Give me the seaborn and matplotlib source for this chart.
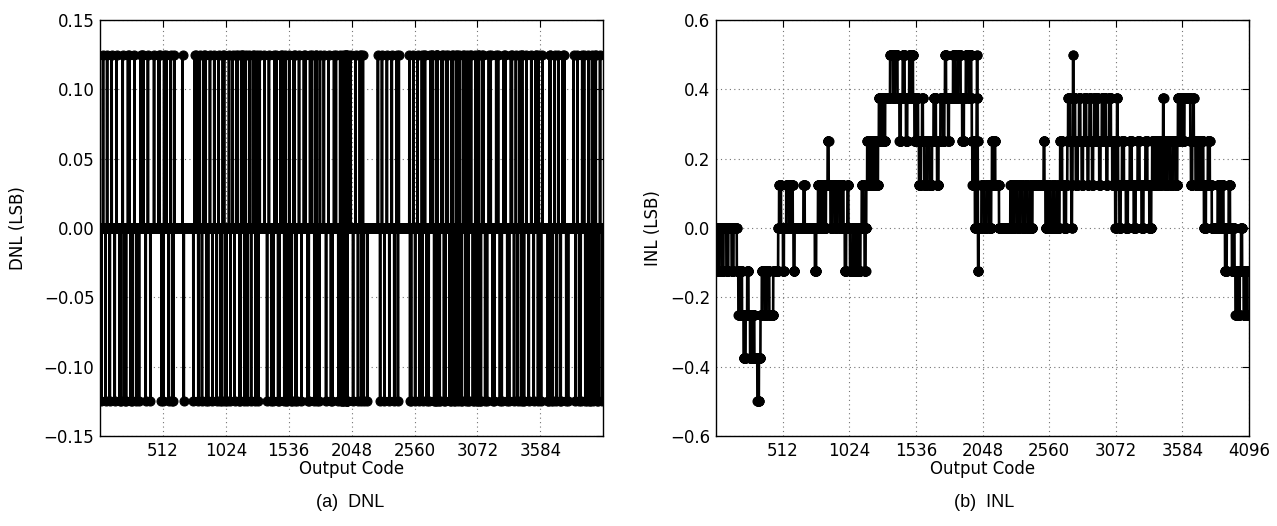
import numpy as np
import pandas as pd
import matplotlib
matplotlib.use("Agg")
import matplotlib.pyplot as plt
import seaborn as sns

# ---------------- data ----------------
n_codes = 4096
lsb_step = 0.125  # INL / DNL resolution in LSB

# INL: code at which the INL enters a new level, and that level in 1/8 LSB
inl_change_codes = [
    0, 12, 25, 45, 58, 80, 95, 120, 135, 160, 172, 185, 200, 212, 228, 240, 250, 262, 280, 295,
    318, 330, 342, 352, 372, 390, 410, 440, 478, 485, 500, 515, 522, 540, 560, 575, 590, 596, 604, 672,
    682, 760, 770, 784, 800, 812, 830, 845, 858, 866, 880, 895, 915, 930, 950, 965, 980, 990, 1000, 1010,
    1018, 1030, 1050, 1062, 1080, 1095, 1110, 1120, 1135, 1142, 1150, 1155, 1162, 1175, 1185, 1200, 1215, 1230, 1245, 1252,
    1265, 1275, 1290, 1300, 1338, 1360, 1375, 1395, 1410, 1420, 1435, 1450, 1460, 1470, 1485, 1500, 1508, 1514, 1525, 1540,
    1553, 1560, 1575, 1584, 1590, 1600, 1620, 1640, 1660, 1672, 1690, 1699, 1710, 1725, 1745, 1755, 1760, 1768, 1784, 1790,
    1822, 1840, 1860, 1880, 1892, 1905, 1920, 1940, 1955, 1962, 1966, 1970, 1978, 1985, 1990, 1995, 2000, 2003, 2006, 2008,
    2010, 2012, 2013, 2014, 2018, 2040, 2060, 2080, 2100, 2115, 2121, 2128, 2140, 2146, 2175, 2262, 2280, 2295, 2315, 2335,
    2355, 2375, 2395, 2415, 2425, 2432, 2518, 2524, 2532, 2550, 2565, 2585, 2600, 2620, 2625, 2640, 2645, 2660, 2675, 2690,
    2700, 2706, 2720, 2728, 2733, 2736, 2740, 2742, 2744, 2746, 2760, 2765, 2780, 2790, 2800, 2810, 2820, 2830, 2845, 2855,
    2862, 2870, 2880, 2890, 2898, 2905, 2915, 2925, 2935, 2945, 2955, 2965, 2975, 2985, 2995, 3000, 3008, 3020, 3035, 3045,
    3055, 3065, 3068, 3075, 3080, 3082, 3086, 3090, 3100, 3110, 3120, 3135, 3150, 3165, 3180, 3195, 3210, 3225, 3240, 3255,
    3270, 3285, 3300, 3315, 3330, 3345, 3352, 3370, 3385, 3400, 3415, 3428, 3432, 3436, 3440, 3451, 3470, 3490, 3510, 3530,
    3545, 3550, 3565, 3570, 3590, 3600, 3645, 3650, 3660, 3666, 3672, 3685, 3700, 3715, 3730, 3745, 3750, 3765, 3780, 3795,
    3810, 3855, 3870, 3885, 3900, 3912, 3925, 3940, 3950, 3965, 3975, 3985, 3992, 4005, 4015, 4025, 4035, 4043, 4055, 4070,
    4085,
]
inl_levels_eighths = [
    0, -1, 0, -1, 0, -1, 0, -1, 0, -1, -2, -1, -2, -3, -2, -1, -2, -3, -2, -3,
    -4, -3, -2, -1, -2, -1, -2, -1, 0, 1, 0, -1, 0, 1, 0, 1, 0, -1, 0, 1,
    0, -1, 0, 1, 0, 1, 0, 1, 2, 1, 0, 1, 0, 1, 0, 1, 0, -1, 0, 1,
    0, -1, 0, -1, 0, -1, 0, 1, 0, -1, 0, 1, 2, 1, 2, 1, 2, 1, 2, 3,
    2, 3, 2, 3, 4, 3, 4, 3, 2, 3, 4, 3, 2, 3, 4, 3, 4, 3, 2, 3,
    2, 1, 2, 3, 2, 1, 2, 1, 2, 3, 2, 1, 2, 3, 2, 3, 4, 3, 2, 3,
    4, 3, 4, 3, 2, 3, 4, 3, 4, 3, 2, 1, 2, 1, 0, 1, 2, 3, 4, 3,
    2, 1, 0, -1, 0, 1, 0, 1, 0, 1, 2, 1, 2, 1, 0, 1, 0, 1, 0, 1,
    0, 1, 0, 1, 0, 1, 2, 1, 0, 1, 0, 1, 0, 1, 0, 1, 2, 1, 0, 1,
    2, 3, 2, 1, 0, 1, 2, 3, 4, 3, 2, 1, 2, 3, 2, 1, 2, 3, 2, 1,
    2, 3, 2, 1, 2, 3, 2, 3, 2, 1, 2, 3, 2, 3, 2, 1, 2, 3, 2, 1,
    2, 1, 0, 1, 2, 3, 2, 1, 0, 1, 2, 1, 0, 1, 2, 1, 0, 1, 2, 1,
    0, 1, 2, 1, 0, 1, 2, 1, 2, 1, 2, 1, 2, 3, 2, 1, 2, 1, 2, 1,
    2, 3, 2, 3, 2, 3, 2, 1, 2, 3, 2, 1, 2, 1, 2, 1, 0, 1, 2, 1,
    0, 1, 0, 1, 0, -1, 0, 1, 0, -1, 0, -1, -2, -1, -2, -1, 0, -1, -2, -1,
    -2,
]

dnl_yticks = [-0.15, -0.10, -0.05, 0.00, 0.05, 0.10, 0.15]
inl_yticks = [-0.6, -0.4, -0.2, 0.0, 0.2, 0.4, 0.6]
dnl_xticks = [512, 1024, 1536, 2048, 2560, 3072, 3584]
inl_xticks = [512, 1024, 1536, 2048, 2560, 3072, 3584, 4096]

# ---------------- expand the run-length INL and derive DNL ----------------
codes = np.arange(n_codes)
inl = np.zeros(n_codes)
bounds = list(inl_change_codes) + [n_codes]
for i, lvl in enumerate(inl_levels_eighths):
    inl[bounds[i]:bounds[i + 1]] = lvl * lsb_step
dnl = np.diff(inl, prepend=inl[0])

df = pd.DataFrame({"code": codes, "DNL": dnl, "INL": inl})

# ---------------- plot ----------------
sns.set_theme(style="white", color_codes=False)
plt.rcParams["font.family"] = ["DejaVu Sans"]
plt.rcParams.update({"text.color": "black", "axes.labelcolor": "black",
                     "xtick.color": "black", "ytick.color": "black"})

BLACK = "#000000"
fig = plt.figure(figsize=(12.77, 5.26), dpi=100)
ax1 = fig.add_axes([0.0783, 0.171, 0.394, 0.791])
ax2 = fig.add_axes([0.5607, 0.171, 0.4174, 0.791])

line_kw = dict(color=BLACK, marker="o", markersize=6.5, markeredgecolor=BLACK,
               markerfacecolor=BLACK, linewidth=1.9, estimator=None, sort=False)

sns.lineplot(data=df, x="code", y="DNL", ax=ax1, **line_kw)
sns.lineplot(data=df, x="code", y="INL", ax=ax2, **line_kw)

for ax, ylab, xt, yt, xlim, ylim, lp in [
    (ax1, "DNL (LSB)", dnl_xticks, dnl_yticks, (0, 4095), (-0.15, 0.15), 12),
    (ax2, "INL (LSB)", inl_xticks, inl_yticks, (0, 4096), (-0.6, 0.6), 6),
]:
    ax.set_xlim(*xlim)
    ax.set_ylim(*ylim)
    ax.set_xticks(xt)
    ax.set_yticks(yt)
    ax.set_xlabel("Output Code", fontsize=12, labelpad=0)
    ax.set_ylabel(ylab, fontsize=12, labelpad=lp)
    ax.grid(True, linestyle=(0, (1, 3)), color="0.45", linewidth=0.8)
    ax.tick_params(direction="in", length=5, width=0.8, top=True, right=True,
                   labelsize=12, pad=4, colors=BLACK)
    for s in ax.spines.values():
        s.set_color(BLACK)
        s.set_linewidth(1.0)

ax1.yaxis.set_major_formatter(matplotlib.ticker.FuncFormatter(
    lambda v, p: ("%.2f" % v).replace("-", "\u2212")))
ax2.yaxis.set_major_formatter(matplotlib.ticker.FuncFormatter(
    lambda v, p: ("%.1f" % v).replace("-", "\u2212")))

cap_font = dict(fontsize=13, family=["Liberation Sans", "DejaVu Sans"], ha="center",
                va="center", color=BLACK)
fig.text(0.274, 0.044, "(a)  DNL", **cap_font)
fig.text(0.771, 0.044, "(b)  INL", **cap_font)

fig.savefig("out.png", dpi=100)
